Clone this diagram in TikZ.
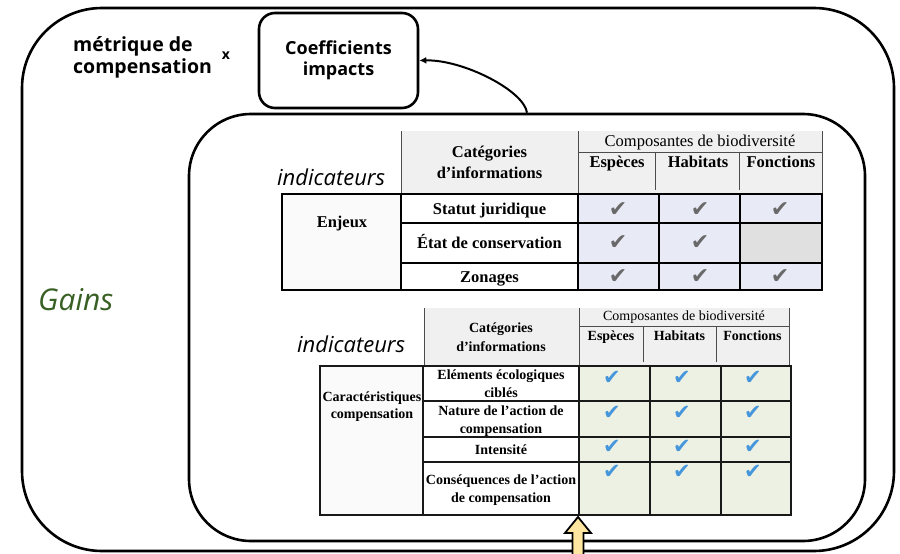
\documentclass[tikz,border=0pt]{standalone}
\usepackage{fontspec}
\setmainfont{Open Sans}
\newfontfamily\tabfont{Liberation Serif}
\newfontfamily\symfont{DejaVu Sans}
\usetikzlibrary{arrows.meta}
\definecolor{gainsgreen}{RGB}{56,96,36}
\definecolor{headgray}{RGB}{240,240,240}
\definecolor{lavcell}{RGB}{232,234,246}
\definecolor{voidcell}{RGB}{224,224,224}
\definecolor{sagecell}{RGB}{237,241,228}
\definecolor{tickgray}{RGB}{105,105,105}
\definecolor{tickblue}{RGB}{70,150,220}
\definecolor{padyellow}{RGB}{255,230,160}
\newcommand{\okmark}{{\symfont\char"2714}}

\begin{document}
\begin{tikzpicture}[x=1pt,y=-1pt,
  roundbox/.style={draw, line width=2.6pt, inner sep=0pt},
  hA/.style={font=\tabfont\fontsize{16.5}{21}\selectfont, inner sep=0pt, align=center, anchor=base},
  hAb/.style={hA, font=\tabfont\bfseries\fontsize{16.5}{21}\selectfont},
  hB/.style={font=\tabfont\fontsize{14}{18}\selectfont, inner sep=0pt, align=center, anchor=base},
  hBb/.style={hB, font=\tabfont\bfseries\fontsize{14}{18}\selectfont},
  tickA/.style={text=tickgray, font=\fontsize{22}{22}\selectfont, inner sep=0pt},
  tickB/.style={text=tickblue, font=\fontsize{21}{21}\selectfont, inner sep=0pt}]
\useasboundingbox (0,0) rectangle (900,554);
% cadres
\node[roundbox, rounded corners=80pt, minimum width=872pt, minimum height=543pt] (outer) at (458,279.5) {};
\node[roundbox, rounded corners=62pt, minimum width=676pt, minimum height=427pt] (inner) at (527,327.5) {};
\node[roundbox, rounded corners=16pt, minimum width=159pt, minimum height=95pt, align=center,
  font=\bfseries\fontsize{18}{21.5}\selectfont] (coef) at (338.5,60.5) {Coefficients\\impacts};
\node[anchor=base west, inner sep=0pt, align=left, font=\bfseries\fontsize{19.5}{21.5}\selectfont] (metric) at (73,73.2) {métrique de\\compensation};
\node[inner sep=0pt, font=\bfseries\fontsize{14}{16}\selectfont] (times) at (226,56) {x};
\node[anchor=base west, inner sep=0pt, text=gainsgreen, font=\itshape\fontsize{30}{34}\selectfont] (gains) at (38,310) {Gains};
\draw[-{Latex[length=7pt,width=7pt]}, line width=2pt] (inner.north) .. controls +(-3,-22) and +(44,-1) .. (coef.east);

% tableau enjeux
\fill[headgray] (401,131) rectangle (822,194);
\fill[black!2] (282,194) rectangle (401,290);
\fill[lavcell] (578,194) rectangle (822,290);
\fill[voidcell] (740,223) rectangle (822,263);
\draw[black!70, line width=0.8pt] (401,131) -- (401,194) (822,131) -- (822,194) (578,131) -- (578,194)
  (578,152) -- (822,152) (655,152) -- (655,190) (739,152) -- (739,190);
\draw[line width=2.4pt] (282,194) rectangle (822,290) (401,194) -- (401,290) (578,194) -- (578,290)
  (659,194) -- (659,290) (740,194) -- (740,290) (401,223) -- (822,223) (401,263) -- (822,263);
\node[anchor=base west, inner sep=0pt, font=\itshape\fontsize{22}{26}\selectfont] (indA) at (277,185) {indicateurs};
\node[hAb] (catA) at (489.5,178) {Catégories\\d’informations};
\node[hA] (compA) at (700,146) {Composantes de biodiversité};
\node[hAb] (espA) at (617,167) {Espèces};
\node[hAb] (habA) at (698,167) {Habitats};
\node[hAb] (fonA) at (781,167) {Fonctions};
\node[hAb] (enjA) at (342,227) {Enjeux};
\node[hAb] (statA) at (489.5,214) {Statut juridique};
\node[hAb] (etatA) at (489.5,248) {État de conservation};
\node[hAb] (zonA) at (489.5,282) {Zonages};
\node[tickA] (a11) at (618,210) {\okmark};
\node[tickA] (a12) at (700,210) {\okmark};
\node[tickA] (a13) at (780,210) {\okmark};
\node[tickA] (a21) at (618,243) {\okmark};
\node[tickA] (a22) at (700,243) {\okmark};
\node[tickA] (a31) at (618,277) {\okmark};
\node[tickA] (a32) at (700,277) {\okmark};
\node[tickA] (a33) at (780,277) {\okmark};

% tableau compensation
\fill[headgray] (424,308) rectangle (789,366);
\fill[black!2] (320,366) rectangle (423,515);
\fill[sagecell] (579,366) rectangle (791,515);
\draw[black!70, line width=0.8pt] (424,308) -- (424,366) (789,308) -- (789,366) (579,308) -- (579,366)
  (579,326) -- (789,326) (643,326) -- (643,362) (716,326) -- (716,362);
\draw[black!90, line width=2pt] (320,366) rectangle (791,515) (423,366) -- (423,515) (579,366) -- (579,515)
  (650,366) -- (650,515) (721,366) -- (721,515) (423,401) -- (791,401) (423,437) -- (791,437) (423,462) -- (791,462);
\node[anchor=base west, inner sep=0pt, font=\itshape\fontsize{22}{26}\selectfont] (indB) at (297,352) {indicateurs};
\node[hBb, font=\tabfont\bfseries\fontsize{14}{19}\selectfont] (catB) at (501,351) {Catégories\\d’informations};
\node[hB] (compB) at (684,320.5) {Composantes de biodiversité};
\node[hBb] (espB) at (611,340.5) {Espèces};
\node[hBb] (habB) at (679.5,340.5) {Habitats};
\node[hBb] (fonB) at (752.5,340.5) {Fonctions};
\node[hBb, font=\tabfont\bfseries\fontsize{14}{17}\selectfont] (carB) at (372,418.5) {Caractéristiques\\compensation};
\node[hBb] (eleB) at (501,397.5) {Eléments écologiques\\ciblés};
\node[hBb] (natB) at (501,433.5) {Nature de l’action de\\compensation};
\node[hBb] (intB) at (501,454.5) {Intensité};
\node[hBb] (conB) at (501,502.5) {Conséquences de l’action\\de compensation};
\node[tickB] (b11) at (612,378) {\okmark};
\node[tickB] (b12) at (682,378) {\okmark};
\node[tickB] (b13) at (753,378) {\okmark};
\node[tickB] (b21) at (612,413) {\okmark};
\node[tickB] (b22) at (682,413) {\okmark};
\node[tickB] (b23) at (753,413) {\okmark};
\node[tickB] (b31) at (612,447) {\okmark};
\node[tickB] (b32) at (682,447) {\okmark};
\node[tickB] (b33) at (753,447) {\okmark};
\node[tickB] (b41) at (612,472) {\okmark};
\node[tickB] (b42) at (682,472) {\okmark};
\node[tickB] (b43) at (753,472) {\okmark};

% fleche jaune
\coordinate (tipB) at (578,517);
\draw[fill=padyellow, line width=1.8pt, shift={(tipB)}] (0,0) -- (13,16) -- (5.5,16) -- (5.5,45) -- (-5.5,45) -- (-5.5,16) -- (-13,16) -- cycle;
\end{tikzpicture}
\end{document}
